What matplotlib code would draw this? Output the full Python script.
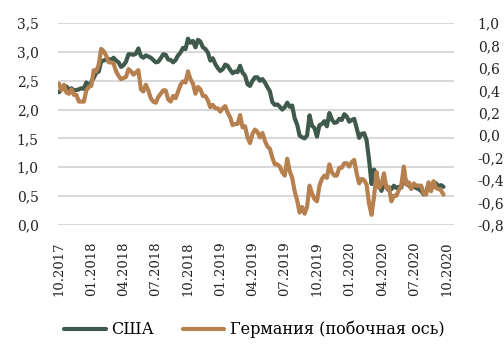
import numpy as np
import pandas as pd
import matplotlib
matplotlib.use("Agg")
from matplotlib import pyplot as plt
import matplotlib.dates as mdates
from matplotlib.ticker import FuncFormatter

# weekly yields, 10y, %
dates = pd.date_range("2017-10-02", periods=156, freq="W-MON")
usa = [
    2.30, 2.36, 2.38, 2.40, 2.34, 2.37, 2.33, 2.34, 2.35, 2.37, 2.36, 2.47, 2.41,
    2.48, 2.55, 2.64, 2.66, 2.84, 2.85, 2.87, 2.88, 2.86, 2.90, 2.85, 2.82, 2.74,
    2.77, 2.83, 2.96, 2.96, 2.95, 2.97, 3.06, 2.93, 2.90, 2.94, 2.92, 2.90, 2.86,
    2.82, 2.83, 2.89, 2.96, 2.95, 2.87, 2.86, 2.82, 2.86, 2.94, 2.99, 3.07, 3.05,
    3.23, 3.16, 3.19, 3.08, 3.21, 3.18, 3.08, 3.05, 2.99, 2.85, 2.89, 2.79, 2.72,
    2.67, 2.70, 2.78, 2.76, 2.69, 2.63, 2.66, 2.65, 2.76, 2.64, 2.59, 2.44, 2.41,
    2.50, 2.56, 2.56, 2.50, 2.53, 2.47, 2.39, 2.32, 2.13, 2.08, 2.09, 2.05, 2.00,
    2.04, 2.12, 2.05, 2.07, 1.85, 1.74, 1.55, 1.52, 1.50, 1.55, 1.90, 1.72, 1.68,
    1.53, 1.73, 1.75, 1.80, 1.71, 1.94, 1.83, 1.77, 1.78, 1.84, 1.82, 1.92, 1.88,
    1.79, 1.82, 1.84, 1.68, 1.51, 1.58, 1.59, 1.47, 1.13, 0.71, 0.96, 0.85, 0.68,
    0.59, 0.73, 0.65, 0.60, 0.62, 0.68, 0.64, 0.66, 0.65, 0.90, 0.71, 0.69, 0.64,
    0.67, 0.64, 0.62, 0.59, 0.53, 0.57, 0.71, 0.63, 0.74, 0.72, 0.67, 0.69, 0.66,
]
germany = [
    0.46, 0.40, 0.45, 0.38, 0.37, 0.41, 0.36, 0.36, 0.30, 0.30, 0.30, 0.40, 0.43,
    0.44, 0.58, 0.57, 0.63, 0.77, 0.75, 0.71, 0.65, 0.65, 0.64, 0.57, 0.53, 0.50,
    0.51, 0.52, 0.59, 0.57, 0.54, 0.56, 0.58, 0.41, 0.39, 0.45, 0.40, 0.33, 0.30,
    0.29, 0.34, 0.37, 0.40, 0.40, 0.32, 0.30, 0.35, 0.33, 0.39, 0.45, 0.48, 0.47,
    0.57, 0.50, 0.46, 0.37, 0.43, 0.41, 0.35, 0.35, 0.31, 0.25, 0.27, 0.24, 0.24,
    0.21, 0.24, 0.26, 0.20, 0.16, 0.09, 0.10, 0.10, 0.18, 0.07, 0.08, -0.02, -0.07,
    0.01, 0.05, 0.03, -0.02, 0.02, -0.05, -0.10, -0.12, -0.20, -0.26, -0.26, -0.28, -0.33,
    -0.36, -0.21, -0.32, -0.38, -0.50, -0.58, -0.69, -0.64, -0.70, -0.64, -0.45, -0.52, -0.57,
    -0.59, -0.45, -0.39, -0.36, -0.38, -0.26, -0.33, -0.36, -0.36, -0.29, -0.29, -0.25, -0.25,
    -0.28, -0.24, -0.22, -0.34, -0.43, -0.39, -0.40, -0.44, -0.61, -0.71, -0.55, -0.33, -0.47,
    -0.44, -0.34, -0.47, -0.46, -0.59, -0.54, -0.54, -0.49, -0.45, -0.28, -0.44, -0.42, -0.48,
    -0.43, -0.45, -0.45, -0.45, -0.52, -0.53, -0.42, -0.50, -0.41, -0.47, -0.48, -0.49, -0.53,
]
tick_dates = pd.date_range("2017-10-01", "2020-10-01", freq="3MS")

plt.rcParams["font.family"] = ["DejaVu Serif"]
c_us = "#3f5a4d"
c_de = "#b7804f"

fig = plt.figure(figsize=(5.04, 3.61), dpi=100)
ax = fig.add_axes([0.115, 0.377, 0.786, 0.559])
ax2 = ax.twinx()

ax.plot(dates, usa, color=c_us, lw=3, solid_capstyle="round", label="США")
ax2.plot(dates, germany, color=c_de, lw=3, solid_capstyle="round",
         label="Германия (побочная ось)")

ax.set_ylim(0, 3.5)
ax.set_yticks(np.arange(0, 3.51, 0.5))
ax2.set_ylim(-0.8, 1.0)
ax2.set_yticks(np.arange(-0.8, 1.01, 0.2))
comma = FuncFormatter(lambda v, p: f"{v:.1f}".replace(".", ",").replace("-0,0", "0,0"))
ax.yaxis.set_major_formatter(comma)
ax2.yaxis.set_major_formatter(comma)

ax.set_xlim(pd.Timestamp("2017-09-29"), pd.Timestamp("2020-10-21"))
ax.set_xticks(tick_dates)
ax.xaxis.set_major_formatter(mdates.DateFormatter("%m.%Y"))
ax.tick_params(axis="x", rotation=90, length=0, pad=12, labelsize=9.5, colors="#222222")
ax.tick_params(axis="y", length=0, pad=14, labelsize=10, colors="#222222")
ax2.tick_params(axis="y", length=0, pad=17, labelsize=10, colors="#222222")
for lab in ax.get_xticklabels():
    lab.set_va("top")

ax.grid(axis="y", color="#d9d9d9", lw=1.5)
ax.set_axisbelow(True)
for a in (ax, ax2):
    for s in a.spines.values():
        s.set_visible(False)

h1, l1 = ax.get_legend_handles_labels()
h2, l2 = ax2.get_legend_handles_labels()
fig.legend(h1 + h2, l1 + l2, loc="center", bbox_to_anchor=(0.505, 0.087), ncol=2,
           frameon=False, fontsize=11.5, handlelength=2.6, handletextpad=0.35,
           columnspacing=1.8)

fig.savefig("out.png", dpi=100)
